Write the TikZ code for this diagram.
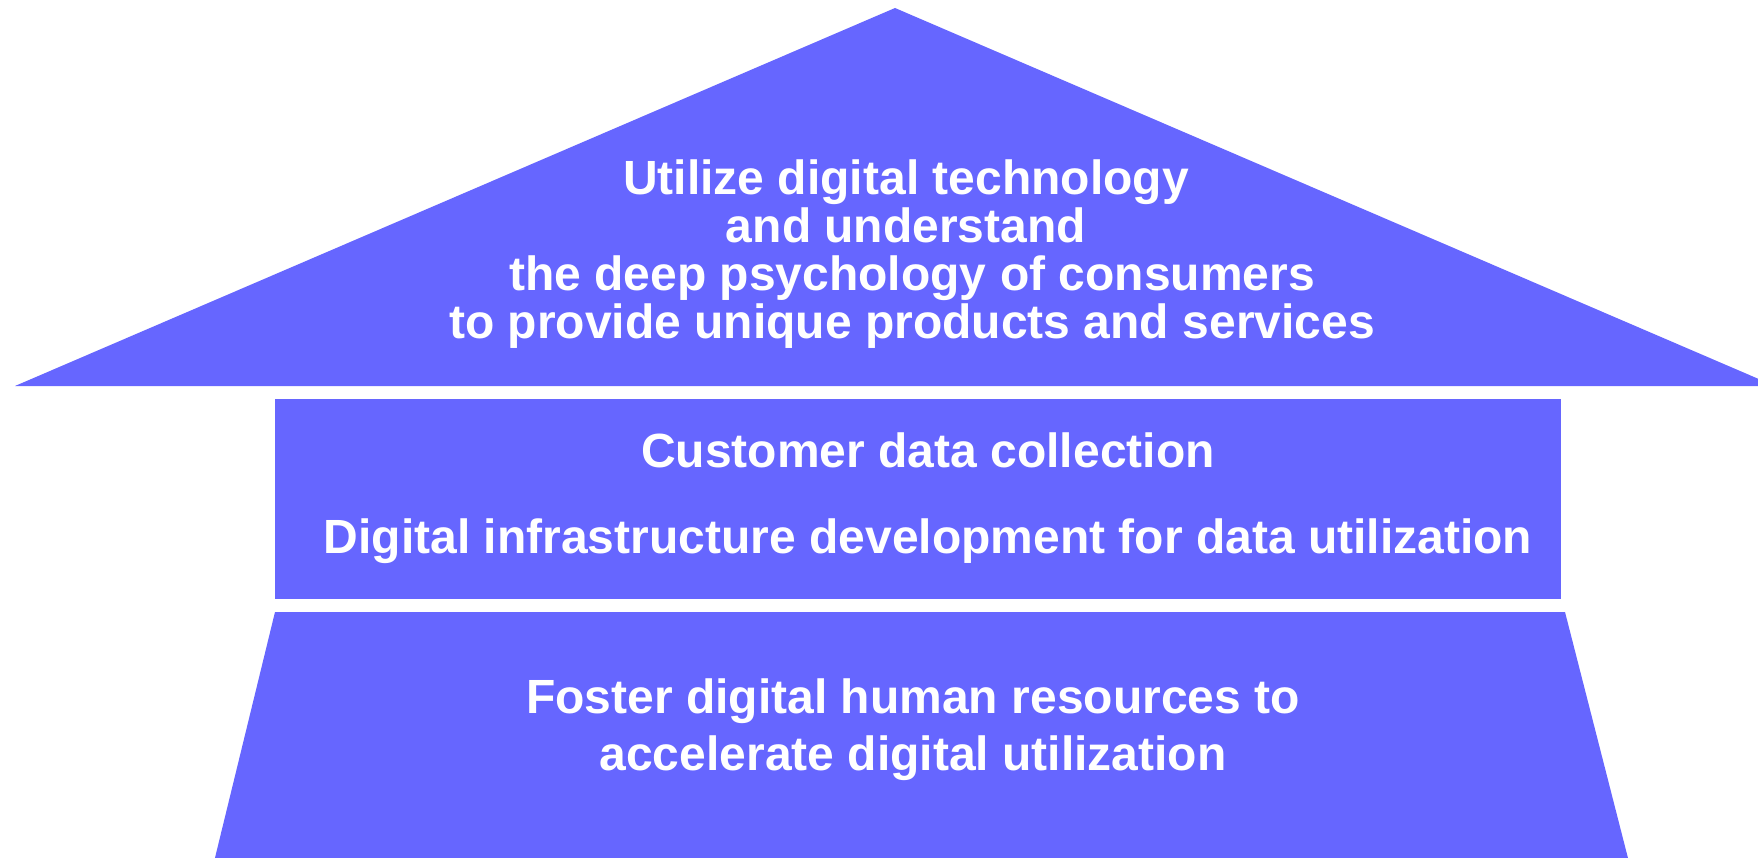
\documentclass[tikz,border=0pt]{standalone}
\usepackage{fontspec}
\setmainfont{Liberation Sans}
\definecolor{housefill}{HTML}{6666FF}
\begin{document}
\begin{tikzpicture}[x=1pt,y=-1pt,
  part/.style={fill=housefill,draw=none},
  label/.style={text=white,font=\fontsize{48}{48}\selectfont\bfseries,align=center,inner sep=0pt}]
\useasboundingbox (0,0) rectangle (1758,858);
\clip (0,0) rectangle (1758,858);
% roof
\path[part] (895,8) -- (1775,386) -- (15,386) -- cycle;
% middle block
\path[part] (275,399) rectangle (1561,599);
% base
\path[part] (275,612) -- (1565,612) -- (1630,866) -- (213,866) -- cycle;
\node[label] (roof) at (912,254) {Utilize digital technology\kern12pt\\and understand\kern12pt\\the deep psychology of consumers\\to provide unique products and services};
\node[label] (mid) at (928,498) {Customer data collection\\[38pt]Digital infrastructure development for data utilization};
\node[label] (base) at (913,730) {Foster digital human resources to\\[9pt]accelerate digital utilization};
\end{tikzpicture}
\end{document}
